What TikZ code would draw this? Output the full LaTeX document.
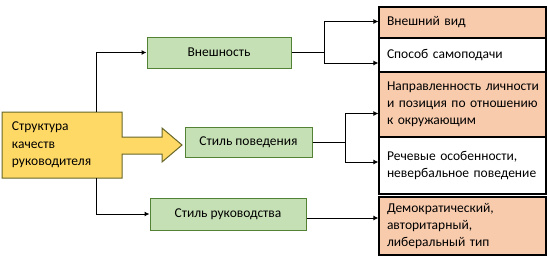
\documentclass[tikz,border=0pt]{standalone}
\usepackage{fontspec}
\setmainfont{Carlito}
\usetikzlibrary{arrows.meta}
\definecolor{gfill}{HTML}{C5E0B4}
\definecolor{gdraw}{HTML}{548235}
\definecolor{pfill}{HTML}{F8CBAD}
\definecolor{yfill}{HTML}{FFD966}
\definecolor{ydraw}{HTML}{66662A}
\tikzset{
  greenbox/.style={draw=gdraw, fill=gfill, line width=1pt, inner sep=0pt},
  rbox/.style={draw=black, line width=1.2pt, inner ysep=0pt, inner xsep=8pt, text width=151pt, align=left, anchor=center},
  arr/.style={line width=1pt, -{Latex[length=5pt,width=5pt]}},
  ln/.style={line width=1pt},
  txt/.style={font=\fontsize{13.5pt}{17pt}\selectfont}
}
\begin{document}
\begin{tikzpicture}[x=1pt,y=-1pt]
\useasboundingbox (0,0) rectangle (548,269);
% yellow arrow shape
\draw[fill=yfill, draw=ydraw, line width=1pt]
  (2,112) -- (122,112) -- (122,137) -- (162,137) -- (162,128) -- (182,145)
  -- (162,162) -- (162,154) -- (122,154) -- (122,178) -- (2,178) -- cycle;
\node[txt, minimum width=120pt, minimum height=66pt, inner xsep=10pt, inner ysep=0pt, align=left,
      text width=100pt] (root) at (62,145)
  {\fontsize{13.5pt}{18pt}\selectfont Структура\\качеств\\руководителя};
% green boxes
\node[greenbox, txt, minimum width=144pt, minimum height=31pt] (vn) at (219,52.5) {Внешность};
\node[greenbox, txt, minimum width=127pt, minimum height=30pt] (sp) at (248.5,142) {Стиль поведения};
\node[greenbox, txt, minimum width=156pt, minimum height=32pt] (sr) at (228,214) {Стиль руководства};
% right boxes
\node[rbox, txt, fill=pfill, minimum height=31pt] (r1) at (462.5,22.5) {Внешний вид};
\node[rbox, txt, minimum height=34pt] (r2) at (462.5,55) {Способ самоподачи};
\node[rbox, txt, fill=pfill, minimum height=65pt] (r3) at (462.5,104.5) {\mbox{Направленность личности}\\\mbox{и позиция по отношению}\\к окружающим};
\node[rbox, txt, minimum height=57pt] (r4) at (462.5,165.5) {Речевые особенности,\\\mbox{невербальное поведение}};
\node[rbox, txt, fill=pfill, minimum height=58pt] (r5) at (462.5,226) {Демократический,\\авторитарный,\\либеральный тип};
% connectors from root
\draw[arr] ([xshift=95pt]root.north west) |- (vn.west);
\draw[arr] ([xshift=95pt]root.south west) |- (sr.west);
% from Внешность
\draw[ln] (vn.east) -- ++(33,0) coordinate (v1);
\draw[arr] (v1) |- ([yshift=1pt]r1.west);
\draw[arr] (v1) |- ([yshift=-8pt]r2.west);
% from Стиль поведения
\draw[ln] (sp.east) -- ++(33,0) coordinate (v2);
\draw[arr] (v2) |- ([yshift=-9pt]r3.west);
\draw[arr] (v2) |- ([yshift=3.5pt]r4.west);
% from Стиль руководства
\draw[arr] ([yshift=-4pt]sr.east) -- ([yshift=-4pt]sr.east -| r5.west);
\end{tikzpicture}
\end{document}
